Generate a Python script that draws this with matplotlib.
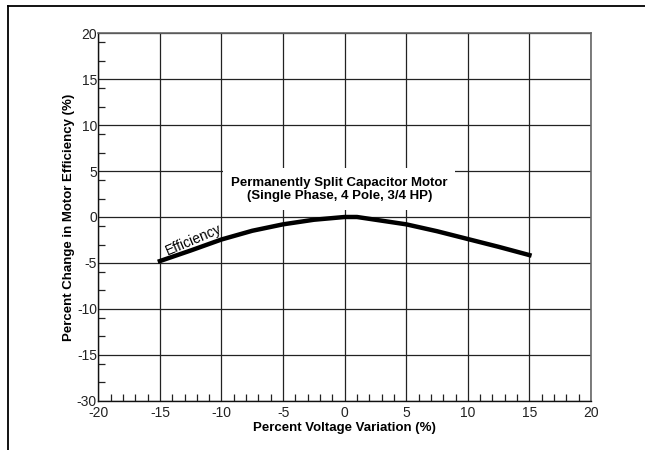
import matplotlib.pyplot as plt
from matplotlib.patches import Rectangle
from matplotlib.lines import Line2D

plt.rcParams['font.family'] = ['Liberation Sans', 'DejaVu Sans']
plt.rcParams['axes.unicode_minus'] = False

# curve
voltage = [-15, -12.5, -10, -7.5, -5, -2.5, 0, 1, 2.5, 5, 7.5, 10, 12.5, 15]
efficiency = [-4.8, -3.65, -2.45, -1.5, -0.8, -0.3, 0.0, 0.0, -0.3, -0.8, -1.55, -2.4, -3.25, -4.15]

xticks = [-20, -15, -10, -5, 0, 5, 10, 15, 20]
yticks = [-20, -15, -10, -5, 0, 5, 10, 15, 20]
ytick_labels = ['-30', '-15', '-10', '-5', '0', '5', '10', '15', '20']
y_minor = [19, 17, 14, 12, 9, 7, 4, 2, -1, -3, -6, -8, -11, -13, -16, -18]
x_minor = [v for v in range(-19, 20) if v % 5 != 0]

fig = plt.figure(figsize=(6.45, 4.5), dpi=100)
ax = fig.add_axes([0.1524, 0.1096, 0.7639, 0.8164])

ax.set_xlim(-20, 20)
ax.set_ylim(-20, 20)
ax.set_xticks(xticks)
ax.set_yticks(yticks)
ax.set_yticklabels(ytick_labels)
ax.set_xticks(x_minor, minor=True)
ax.set_yticks(y_minor, minor=True)
ax.tick_params(which='major', length=0, labelsize=10, colors='#222222')
ax.tick_params(axis='x', which='major', pad=4)
ax.tick_params(axis='y', which='major', pad=1)
ax.tick_params(which='minor', direction='in', length=5, width=0.9, color='#222222')

ax.grid(True, which='major', color='#222222', lw=0.9)
ax.set_axisbelow(True)
for s in ['left', 'bottom']:
    ax.spines[s].set_color('#111111')
    ax.spines[s].set_linewidth(1.0)
for s in ['top', 'right']:
    ax.spines[s].set_color('#666666')
    ax.spines[s].set_linewidth(1.2)

# white box behind the title text
ax.add_patch(Rectangle((-9.9, 0.75), 18.85, 4.6, facecolor='white', edgecolor='none', zorder=2))
ax.text(-0.4, 3.0, 'Permanently Split Capacitor Motor\n(Single Phase, 4 Pole, 3/4 HP)',
        ha='center', va='center', fontsize=9.5, fontweight='bold', linespacing=1.1, zorder=3)

ax.plot(voltage, efficiency, color='black', lw=3.2, zorder=4)
ax.text(-12.3, -2.45, 'Efficiency', rotation=23, ha='center', va='center', fontsize=10, zorder=5)

ax.set_xlabel('Percent Voltage Variation (%)', fontsize=9.5, fontweight='bold', labelpad=1)
ax.set_ylabel('Percent Change in Motor Efficiency (%)', fontsize=9.5, fontweight='bold', labelpad=1.5)

# page frame
fig.add_artist(Line2D([8 / 645, 1], [1 - 5.5 / 450, 1 - 5.5 / 450], color='black', lw=1.3))
fig.add_artist(Line2D([8 / 645, 8 / 645], [0, 1 - 5.5 / 450], color='black', lw=1.3))

fig.savefig('out.png', dpi=100)
